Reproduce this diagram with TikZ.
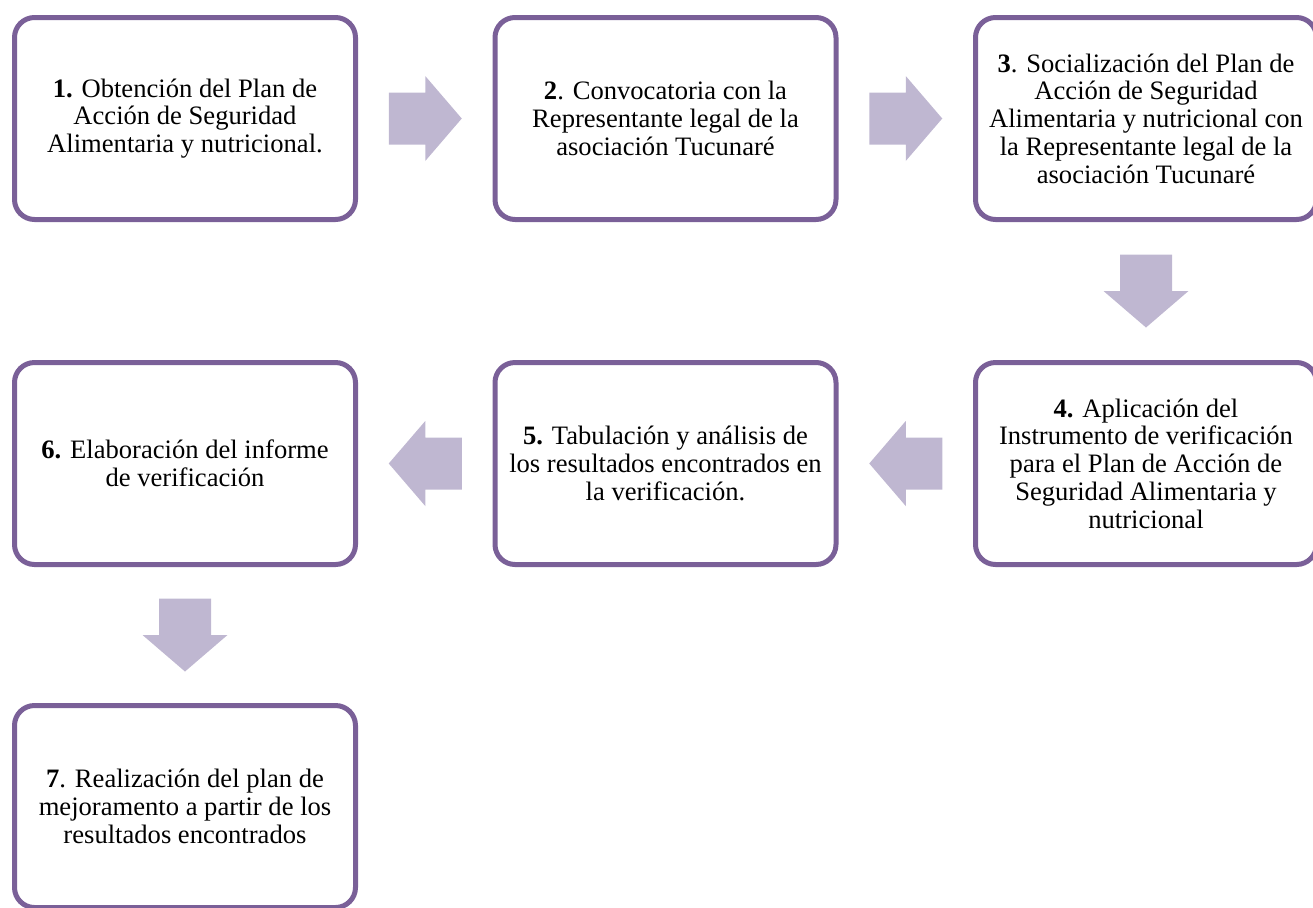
\documentclass[tikz,border=0pt]{standalone}
\usepackage{fontspec}
\setmainfont{Liberation Serif}
\usepackage{xcolor}
\usepackage{tikz}
\usetikzlibrary{calc}

\definecolor{borde}{RGB}{122,96,152}
\definecolor{flechagris}{RGB}{191,183,209}

\begin{document}
\begin{tikzpicture}[x=0.5pt,y=0.5pt,
    paso/.style={draw=borde,line width=2.5pt,rounded corners=10pt,fill=white,
                 minimum width=170.5pt,minimum height=101pt,align=center,
                 font=\fontsize{13.3}{13.9}\selectfont},
    flecha/.pic={\fill[flechagris] (-36.5,-26) -- (0,-26) -- (0,-42.5) -- (36.5,0)
                 -- (0,42.5) -- (0,26) -- (-36.5,26) -- cycle;}]
                    \useasboundingbox (0,0) rectangle (1313,-907);

                    \node[paso] (S1) at (185,-118.5) {\textbf{1.} Obtención del Plan de\\Acción de Seguridad\\Alimentaria y nutricional.};
                    \node[paso] (S2) at (665.5,-118.5) {\textbf{2}. Convocatoria con la\\Representante legal de la\\asociación Tucunaré};
                    \node[paso] (S3) at (1146,-118.5) {\textbf{3}. Socialización del Plan de\\Acción de Seguridad\\Alimentaria y nutricional con\\la Representante legal de la\\asociación Tucunaré};
                    \node[paso] (S4) at (1146,-463.5) {\textbf{4.} Aplicación del\\Instrumento de verificación\\para el Plan de Acción de\\Seguridad Alimentaria y\\nutricional};
                    \node[paso] (S5) at (665.5,-463.5) {\textbf{5.} Tabulación y análisis de\\los resultados encontrados en\\la verificación.};
                    \node[paso] (S6) at (185,-463.5) {\textbf{6.} Elaboración del informe\\de verificación};
                    \node[paso] (S7) at (185,-806.5) {\textbf{7}. Realización del plan de\\mejoramento a partir de los\\resultados encontrados};

                    % flechas de bloque entre los pasos
                    \pic at ($(S1.east)!0.5!(S2.west)$) {flecha};
                    \pic at ($(S2.east)!0.5!(S3.west)$) {flecha};
                    \pic[rotate=-90] at ($(S3.south)!0.5!(S4.north)$) {flecha};
                    \pic[rotate=180] at ($(S4.west)!0.5!(S5.east)$) {flecha};
                    \pic[rotate=180] at ($(S5.west)!0.5!(S6.east)$) {flecha};
                    \pic[rotate=-90] at ($(S6.south)!0.5!(S7.north)$) {flecha};
                 \end{tikzpicture}
\end{document}
